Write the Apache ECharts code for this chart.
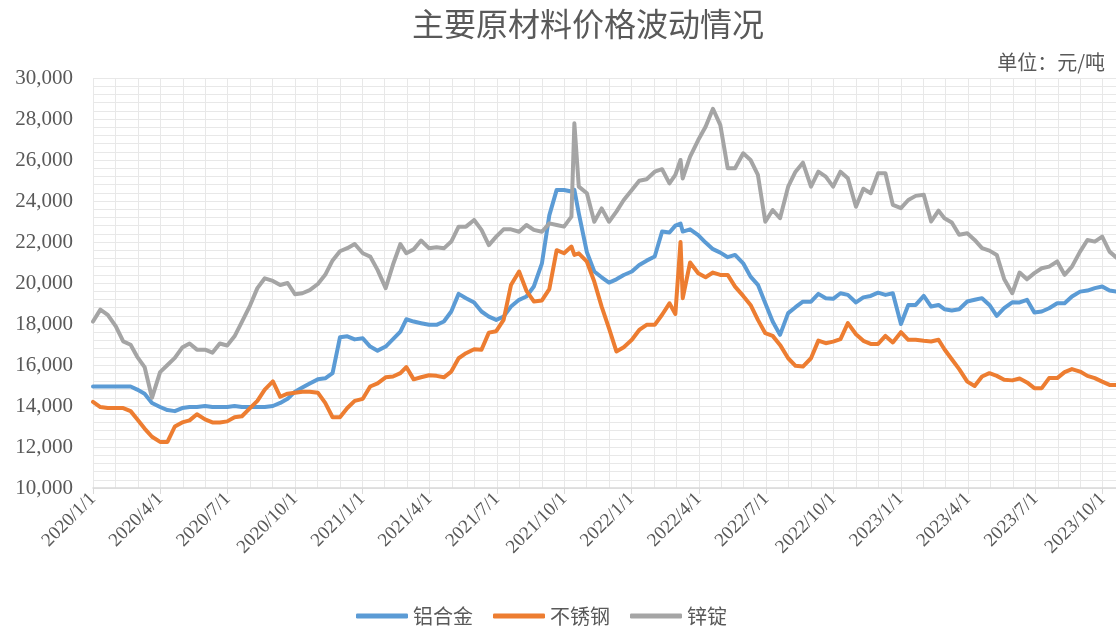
<!DOCTYPE html>
<html lang="zh-CN">
<head>
    <meta charset="UTF-8">
    <title>主要原材料价格波动情况</title>
    <script src="https://cdn.jsdelivr.net/npm/echarts@6.0.0/dist/echarts.min.js"></script>
    <style>
        html, body { margin: 0; padding: 0; background: #fff; }
        #main { width: 1116px; height: 626px; }
    </style>
</head>
<body>
<div id="main"></div>
<script>
    // 取样日期（大约每10天一个点）
    let dates = [
        '2020/1/1','2020/1/11','2020/1/21','2020/2/1','2020/2/11','2020/2/21','2020/3/1','2020/3/11','2020/3/21','2020/4/1','2020/4/11','2020/4/21',
        '2020/5/1','2020/5/11','2020/5/21','2020/6/1','2020/6/11','2020/6/21','2020/7/1','2020/7/11','2020/7/21','2020/8/1','2020/8/11','2020/8/21',
        '2020/9/1','2020/9/11','2020/9/21','2020/10/1','2020/10/11','2020/10/21','2020/11/1','2020/11/11','2020/11/21','2020/12/1','2020/12/11','2020/12/21',
        '2021/1/1','2021/1/11','2021/1/21','2021/2/1','2021/2/11','2021/2/21','2021/3/1','2021/3/11','2021/3/21','2021/4/1','2021/4/11','2021/4/21',
        '2021/5/1','2021/5/11','2021/5/21','2021/6/1','2021/6/11','2021/6/21','2021/7/1','2021/7/11','2021/7/21','2021/8/1','2021/8/11','2021/8/21',
        '2021/9/1','2021/9/11','2021/9/21','2021/10/1','2021/10/11','2021/10/15','2021/10/21','2021/11/1','2021/11/11','2021/11/21','2021/12/1','2021/12/11','2021/12/21',
        '2022/1/1','2022/1/11','2022/1/21','2022/2/1','2022/2/11','2022/2/21','2022/3/1','2022/3/8','2022/3/11','2022/3/21','2022/4/1','2022/4/11','2022/4/21',
        '2022/5/1','2022/5/11','2022/5/21','2022/6/1','2022/6/11','2022/6/21','2022/7/1','2022/7/11','2022/7/21','2022/8/1','2022/8/11','2022/8/21',
        '2022/9/1','2022/9/11','2022/9/21','2022/10/1','2022/10/11','2022/10/21','2022/11/1','2022/11/11','2022/11/21','2022/12/1','2022/12/11','2022/12/21',
        '2023/1/1','2023/1/11','2023/1/21','2023/2/1','2023/2/11','2023/2/21','2023/3/1','2023/3/11','2023/3/21','2023/4/1','2023/4/11','2023/4/21',
        '2023/5/1','2023/5/11','2023/5/21','2023/6/1','2023/6/11','2023/6/21','2023/7/1','2023/7/11','2023/7/21','2023/8/1','2023/8/11','2023/8/21',
        '2023/9/1','2023/9/11','2023/9/21','2023/10/1','2023/10/11','2023/10/20'
    ];

    // 铝合金
    let alloy = [
        14950,14950,14950,14950,14950,14950,14800,14600,14150,13950,13800,13750,13900,13950,13950,14000,13950,13950,
        13950,14000,13950,13950,13950,13950,14000,14150,14350,14700,14900,15100,15300,15350,15600,17350,17400,17250,
        17300,16900,16700,16900,17260,17630,18230,18120,18040,17960,17960,18120,18610,19470,19260,19050,18610,18360,
        18200,18360,18850,19180,19340,19830,20960,23300,24540,24540,24460,24540,23400,21500,20560,20280,20020,20180,20390,
        20560,20880,21090,21290,22510,22460,22800,22900,22510,22620,22340,21970,21650,21480,21260,21370,20960,20310,
        19910,19010,18120,17470,18530,18820,19090,19090,19470,19260,19230,19500,19420,19050,19300,19370,19530,19420,19500,
        18000,18930,18930,19370,18850,18930,18720,18660,18720,19100,19180,19260,18930,18400,18770,19060,19050,19180,
        18560,18610,18770,19010,19010,19340,19580,19630,19750,19830,19630,19580
    ];

    // 不锈钢
    let steel = [
        14200,13950,13900,13900,13900,13750,13350,12900,12500,12250,12250,13000,13200,13300,13600,13350,13200,13200,
        13250,13450,13500,13900,14250,14800,15200,14450,14600,14650,14700,14700,14650,14150,13450,13450,13900,14250,
        14350,14950,15100,15400,15440,15600,15900,15300,15400,15500,15470,15400,15680,16330,16575,16770,16740,17580,
        17650,18200,19900,20560,19620,19100,19150,19700,21600,21450,21780,21370,21450,21040,20070,18850,17790,16660,16870,
        17230,17710,17960,17960,18450,19010,18490,22000,19260,21000,20475,20280,20510,20395,20395,19825,19370,18930,
        18200,17550,17420,16980,16330,15960,15925,16330,17190,17063,17140,17260,18040,17500,17180,17030,17030,17420,17100,
        17600,17230,17230,17180,17150,17230,16770,16280,15800,15190,14980,15440,15600,15470,15280,15250,15340,15150,
        14870,14870,15360,15360,15650,15800,15680,15470,15360,15190,15030,15030
    ];

    // 锌锭
    let zinc = [
        18120,18700,18450,17880,17150,16990,16400,15900,14400,15650,16000,16350,16850,17050,16750,16750,16600,17050,
        16950,17400,18100,18900,19750,20230,20100,19900,20000,19450,19500,19650,19950,20400,21100,21550,21700,21900,
        21450,21290,20640,19750,20900,21900,21450,21640,22070,21690,21740,21690,22020,22750,22750,23075,22590,21850,
        22260,22620,22620,22500,22830,22590,22500,22910,22830,22750,23240,27790,24700,24375,22990,23640,22990,23480,24050,
        24540,24990,25060,25430,25550,24860,25270,26000,25100,26160,26975,27625,28500,27700,25600,25600,26330,26000,
        25270,22990,23560,23160,24700,25430,25870,24700,25430,25190,24700,25430,25110,23720,24600,24380,25350,25350,23810,
        23650,24050,24250,24300,23000,23530,23160,22950,22350,22430,22100,21700,21580,21370,20200,19500,20510,20180,
        20480,20720,20800,21050,20400,20800,21530,22100,22020,22260,21530,21250
    ];

    let seriesNames = ['铝合金', '不锈钢', '锌锭'];
    let seriesColors = ['#5B9BD5', '#ED7D31', '#A5A5A5'];
    let tickLabels = [
        '2020/1/1','2020/4/1','2020/7/1','2020/10/1','2021/1/1','2021/4/1','2021/7/1','2021/10/1',
        '2022/1/1','2022/4/1','2022/7/1','2022/10/1','2023/1/1','2023/4/1','2023/7/1','2023/10/1'
    ];

    const QUARTER = 365.25 / 4;
    const DAY0 = Date.UTC(2020, 0, 1);

    // 日期 -> 距 2020/1/1 的天数
    function dayOf(s) {
        let p = s.split('/').map(Number);
        return (Date.UTC(p[0], p[1] - 1, p[2]) - DAY0) / 86400000;
    }

    function pairs(values) {
        return dates.map((d, i) => [dayOf(d), values[i]]);
    }

    let labelColor = '#595959';
    let gridColor = '#E8E8E8';
    let serif = '"Liberation Serif", "Times New Roman", serif';
    let cjk = '"Noto Sans CJK SC", sans-serif';

    let myChart = echarts.init(document.getElementById('main'), null, {renderer: 'canvas'});
    let option = {
        animation: false,
        backgroundColor: '#fff',
        title: [
            {
                text: '主要原材料价格波动情况',
                left: 583,
                top: 3,
                textAlign: 'center',
                textStyle: {fontSize: 32, fontWeight: 'normal', color: labelColor, fontFamily: cjk}
            },
            {
                text: '单位：元/吨',
                right: 6,
                top: 47,
                textStyle: {fontSize: 20, fontWeight: 'normal', color: labelColor, fontFamily: cjk}
            }
        ],
        legend: {
            data: seriesNames,
            left: 351,
            top: 601,
            icon: 'roundRect',
            itemWidth: 52,
            itemHeight: 5,
            itemGap: 20,
            textStyle: {fontSize: 20, color: labelColor, fontFamily: cjk}
        },
        grid: {
            left: 93,
            right: -54,
            top: 78,
            bottom: 138,
            containLabel: false,
            outerBoundsMode: 'none'
        },
        xAxis: {
            type: 'value',
            min: 0,
            max: QUARTER * 16,
            interval: QUARTER,
            axisLine: {lineStyle: {color: '#D9D9D9', width: 1.5}},
            axisTick: {show: true, length: 6, lineStyle: {color: '#D9D9D9'}},
            axisLabel: {
                rotate: 45,
                margin: 8,
                showMaxLabel: false,
                color: labelColor,
                fontSize: 19,
                fontFamily: serif,
                formatter: function (v) {
                    return tickLabels[Math.round(v / QUARTER)] || '';
                }
            },
            splitLine: {show: true, lineStyle: {color: gridColor}},
            minorTick: {show: false, splitNumber: 3},
            minorSplitLine: {show: true, lineStyle: {color: gridColor}}
        },
        yAxis: {
            type: 'value',
            min: 10000,
            max: 30000,
            interval: 2000,
            axisLine: {show: false},
            axisTick: {show: false},
            axisLabel: {
                margin: 20,
                color: labelColor,
                fontSize: 21,
                fontFamily: serif,
                formatter: function (v) {
                    return v.toLocaleString('en-US');
                }
            },
            splitLine: {show: true, lineStyle: {color: gridColor}},
            minorTick: {show: false, splitNumber: 5},
            minorSplitLine: {show: true, lineStyle: {color: gridColor}}
        },
        series: [alloy, steel, zinc].map((vals, i) => ({
            name: seriesNames[i],
            type: 'line',
            data: pairs(vals),
            showSymbol: false,
            symbol: 'none',
            color: seriesColors[i],
            lineStyle: {width: 4, color: seriesColors[i], cap: 'round', join: 'round'},
            emphasis: {disabled: true}
        }))
    };
    myChart.setOption(option);
</script>
</body>
</html>
